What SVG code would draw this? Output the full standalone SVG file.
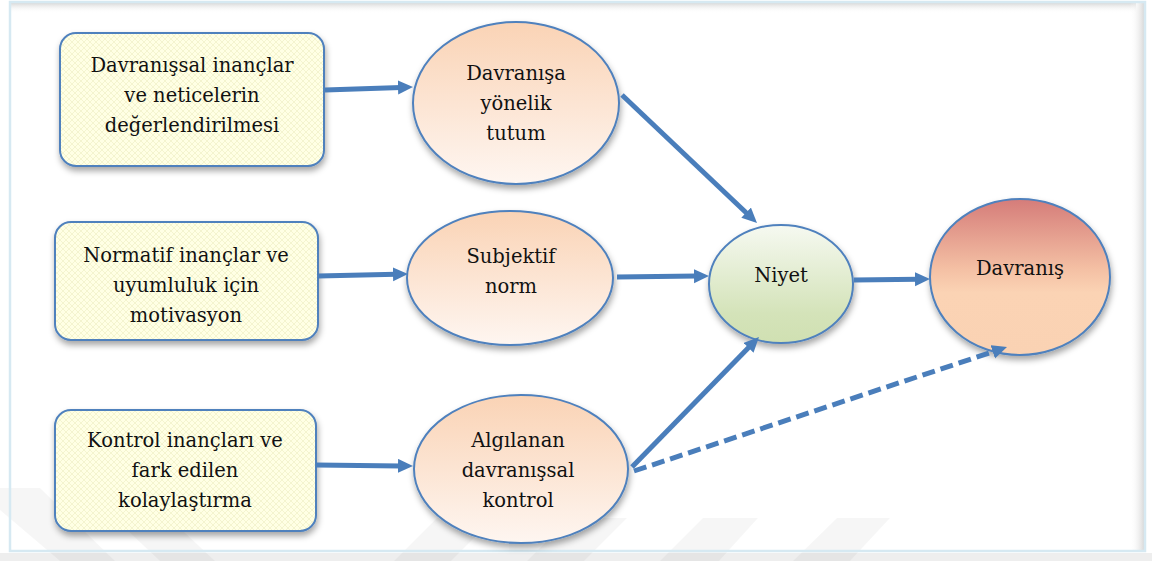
<svg xmlns="http://www.w3.org/2000/svg" width="1152" height="561" viewBox="0 0 1152 561">
  <defs>
    <style>
      .box { stroke: #4F81BD; stroke-width: 2; fill: url(#yellowPat); }
      .ell { stroke: #4F81BD; stroke-width: 2; }
      .arr { stroke: #4A7EBB; stroke-width: 5; fill: none; marker-end: url(#head); }
      .dash { stroke-dasharray: 13 6; }
      .wm { fill: #000; opacity: 0.035; }
    </style>
    <pattern id="yellowPat" width="6" height="6" patternUnits="userSpaceOnUse">
      <rect width="6" height="6" fill="#FFFFE4"/>
      <path d="M0,0 L6,6 M6,0 L0,6" stroke="#EFEFC6" stroke-width="0.7"/>
    </pattern>
    <linearGradient id="peach" x1="0" y1="0" x2="0" y2="1">
      <stop offset="0" stop-color="#FAD3B5"/>
      <stop offset="1" stop-color="#FEF6F1"/>
    </linearGradient>
    <linearGradient id="green" x1="0" y1="0" x2="0" y2="1">
      <stop offset="0" stop-color="#F6F9F1"/>
      <stop offset="0.75" stop-color="#D4E3B9"/>
      <stop offset="1" stop-color="#D0E0B2"/>
    </linearGradient>
    <linearGradient id="rose" x1="0" y1="0" x2="0" y2="1">
      <stop offset="0" stop-color="#D57C79"/>
      <stop offset="0.45" stop-color="#F4C0A4"/>
      <stop offset="0.6" stop-color="#FBD3B4"/>
      <stop offset="1" stop-color="#FAD2B3"/>
    </linearGradient>
    <linearGradient id="topShade" x1="0" y1="0" x2="0" y2="1">
      <stop offset="0" stop-color="#D9D9D9"/>
      <stop offset="1" stop-color="#FFFFFF" stop-opacity="0"/>
    </linearGradient>
    <linearGradient id="rightShade" x1="1" y1="0" x2="0" y2="0">
      <stop offset="0" stop-color="#D9D9D9"/>
      <stop offset="1" stop-color="#FFFFFF" stop-opacity="0"/>
    </linearGradient>
    <filter id="shadow" x="-10%" y="-10%" width="125%" height="130%">
      <feDropShadow dx="1" dy="4" stdDeviation="3" flood-color="#000" flood-opacity="0.35"/>
    </filter>
    <marker id="head" markerUnits="userSpaceOnUse" markerWidth="16" markerHeight="15" refX="3" refY="7" orient="auto">
      <path d="M0,0 L15,7 L0,14 Z" fill="#4A7EBB"/>
    </marker>
  </defs>

  <!-- background and frame -->
  <rect x="0" y="0" width="1152" height="561" fill="#FFFFFF"/>
  <rect x="0" y="553" width="1152" height="8" fill="#EEEEEE"/>
  <g id="watermark">
    <polygon class="wm" points="0,488 40,488 115,561 60,561 0,510"/>
    <polygon class="wm" points="95,500 150,500 215,561 160,561"/>
    <polygon class="wm" points="437,518 494,518 451,561 394,561"/>
    <polygon class="wm" points="570,518 627,518 584,561 527,561"/>
    <polygon class="wm" points="703,518 758,518 719,561 660,561"/>
    <polygon class="wm" points="837,518 890,518 850,561 793,561"/>
  </g>
  <rect x="10" y="3" width="1126" height="10" fill="url(#topShade)"/>
  <rect x="1130" y="3" width="14" height="548" fill="url(#rightShade)"/>
  <rect x="10" y="2" width="1135" height="549" fill="none" stroke="#D6E9F2" stroke-width="2.5"/>

  <g font-family="DejaVu Serif, Liberation Serif, serif" font-size="19.5" fill="#111111" text-anchor="middle">
  <!-- nodes -->
  <g id="box1">
    <rect class="box" x="60" y="33" width="264" height="133" rx="16" filter="url(#shadow)"/>
    <text x="192" y="72">Davranışsal inançlar</text>
    <text x="192" y="102">ve neticelerin</text>
    <text x="192" y="132">değerlendirilmesi</text>
  </g>
  <g id="box2">
    <rect class="box" x="55" y="222" width="263" height="118" rx="16" filter="url(#shadow)"/>
    <text x="186" y="262">Normatif inançlar ve</text>
    <text x="186" y="292">uyumluluk için</text>
    <text x="186" y="322">motivasyon</text>
  </g>
  <g id="box3">
    <rect class="box" x="55" y="410" width="261" height="121" rx="16" filter="url(#shadow)"/>
    <text x="185" y="447">Kontrol inançları ve</text>
    <text x="185" y="477">fark edilen</text>
    <text x="185" y="507">kolaylaştırma</text>
  </g>
  <g id="tutum">
    <ellipse class="ell" cx="516" cy="103" rx="103" ry="81" fill="url(#peach)" filter="url(#shadow)"/>
    <text x="516" y="80">Davranışa</text>
    <text x="516" y="110">yönelik</text>
    <text x="516" y="140">tutum</text>
  </g>
  <g id="norm">
    <ellipse class="ell" cx="510" cy="278" rx="103" ry="67" fill="url(#peach)" filter="url(#shadow)"/>
    <text x="511" y="263">Subjektif</text>
    <text x="511" y="293">norm</text>
  </g>
  <g id="kontrol">
    <ellipse class="ell" cx="521" cy="469" rx="107" ry="74" fill="url(#peach)" filter="url(#shadow)"/>
    <text x="518" y="447">Algılanan</text>
    <text x="518" y="477">davranışsal</text>
    <text x="518" y="507">kontrol</text>
  </g>
  <g id="niyet">
    <ellipse class="ell" cx="781" cy="284" rx="72" ry="59" fill="url(#green)" filter="url(#shadow)"/>
    <text x="781" y="282">Niyet</text>
  </g>
  <g id="davranis">
    <ellipse class="ell" cx="1020" cy="277" rx="90" ry="78" fill="url(#rose)" filter="url(#shadow)"/>
    <text x="1020" y="275">Davranış</text>
  </g>
  </g>

  <!-- connectors -->
  <g id="connectors">
    <line class="arr" x1="325" y1="90" x2="401" y2="87.4"/>
    <line class="arr" x1="622" y1="95" x2="748.3" y2="214.7"/>
    <line class="arr" x1="318" y1="276" x2="396" y2="274.3"/>
    <line class="arr" x1="617" y1="277" x2="697" y2="276.1"/>
    <line class="arr" x1="854" y1="280" x2="918" y2="279.2"/>
    <line class="arr" x1="316" y1="465" x2="401" y2="465.9"/>
    <line class="arr" x1="632" y1="467" x2="750.6" y2="345.6"/>
    <line class="arr dash" x1="634" y1="471" x2="995.6" y2="350.8"/>
  </g>
</svg>
